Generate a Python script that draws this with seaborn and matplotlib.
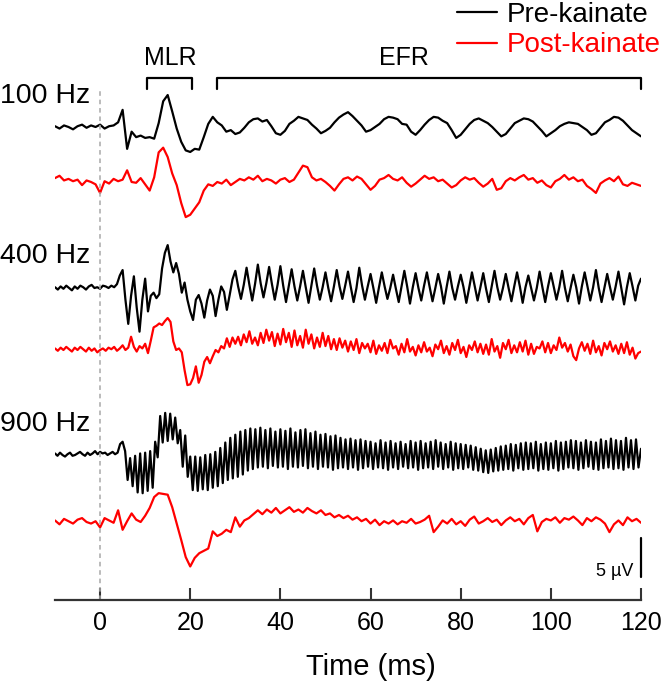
import numpy as np
import matplotlib
matplotlib.use("Agg")
import matplotlib.pyplot as plt
import seaborn as sns
from matplotlib.lines import Line2D

# amostragem (ms) de cada registro
t_start = -10.0
step_100 = 1.0
step_400 = 0.625
step_900_pre = 5 / 9
step_900_post = 1.0

# 100 Hz (uV)
pre_100 = [0.1, -0.2, 0.2, 0.0, -0.3, 0.1, 0.3, -0.1, 0.2, 0.0,
           0.3, -0.2, 0.1, 0.2, 0.6, 2.2, -2.8, -0.6, -1.3, -1.1,
           -1.4, -1.3, -1.5, 0.5, 3.3, 4.1, 2.0, -0.2, -1.9, -3.0,
           -3.2, -2.8, -2.9, -1.3, 0.4, 1.3, 0.6, 0.2, -0.6, -0.4,
           -0.9, -0.7, -0.1, 0.6, 1.0, 1.1, 0.7, 0.9, 0.1, -0.8,
           -1.0, -0.5, 0.4, 0.8, 1.3, 1.1, 0.9, 0.3, -0.2, -0.8,
           -0.5, -0.1, 0.6, 1.2, 1.6, 1.9, 1.4, 0.8, 0.2, -0.6,
           -0.4, 0.0, 0.4, 1.0, 1.3, 1.2, 1.0, 0.4, 0.3, -0.6,
           -1.0, -0.4, 0.3, 0.9, 1.3, 1.2, 0.8, 0.5, -0.4, -1.4,
           -1.0, -0.3, 0.4, 0.9, 1.1, 0.8, 0.5, 0.0, -0.6, -1.2,
           -0.9, -0.2, 0.5, 0.8, 1.1, 1.0, 0.7, 0.1, -0.5, -1.2,
           -0.8, -0.4, 0.1, 0.4, 0.6, 0.5, 0.4, 0.0, -0.4, -1.0,
           -0.8, -0.1, 0.6, 0.9, 1.3, 1.2, 0.8, 0.2, -0.4, -0.8,
           -1.2]
post_100 = [0.5, 0.8, 0.2, 0.4, 0.1, 0.3, -0.4, 0.2, 0.0, -0.3,
            -1.4, 0.1, -0.2, 0.4, 0.1, 0.3, 1.5, 0.0, -0.1, 0.5,
            -0.3, -1.1, 0.6, 3.8, 4.4, 3.2, 1.1, -0.4, -2.7, -4.5,
            -4.2, -3.4, -2.6, -1.1, -0.3, -0.5, 0.0, -0.2, 0.3, -0.4,
            0.0, 0.4, 0.2, 0.6, 0.3, 0.8, 0.1, 0.4, 0.2, -0.2,
            0.3, 0.5, 0.0, 0.3, 1.2, 2.1, 1.9, 0.6, 0.2, 0.4,
            0.0, -0.5, -1.1, -0.3, 0.4, 0.6, 0.2, 0.7, 0.4, -0.3,
            -1.0, -0.5, 0.3, 0.5, 0.9, 0.4, 0.2, 0.6, -0.1, -0.6,
            -0.2, 0.3, 0.8, 0.4, 0.6, 0.1, 0.3, -0.2, -0.7, -0.4,
            0.2, 0.6, 0.3, 0.5, -0.1, -0.6, -0.2, 0.4, -1.0, -0.8,
            0.1, 0.5, 0.2, 0.6, 0.9, 0.3, 0.5, -0.1, 0.2, -0.4,
            -0.7, 0.1, 0.4, 0.9, 0.3, 0.6, 0.1, 0.3, -0.5, -0.9,
            -1.4, -0.2, 0.2, 0.5, 0.1, 0.7, -0.3, -0.5, -0.1, -0.3,
            -0.5]

# 400 Hz (uV)
pre_400 = [0.1, -0.2, 0.2, -0.1, 0.3, 0.0, -0.3, 0.2,
           -0.1, 0.3, 0.1, -0.2, 0.2, 0.4, 0.0, 0.1,
           -0.1, 0.3, 0.2, 0.0, 0.3, 0.1, 0.5, 1.6,
           2.3, -1.5, -4.6, -1.0, 1.5, -2.5, -5.6, -1.5,
           1.2, -3.0, -1.0, -0.6, -1.3, -0.8, 2.5, 4.5,
           5.5, 3.4, 2.0, 3.2, 1.8, -0.6, 0.7, -1.5,
           -3.0, -4.1, -1.5, -0.9, -2.0, -3.8, -1.6, -0.2,
           -1.0, -3.6, -1.5, 0.2, -0.5, -2.8, -0.9, 1.1,
           2.2, 0.2, -1.4, 0.4, 2.6, 0.4, -1.6, 0.5,
           3.0, 0.6, -1.2, 0.6, 2.7, 0.5, -1.5, 0.4,
           2.8, 0.3, -1.8, 0.3, 2.4, 0.2, -1.6, 0.2,
           2.2, 0.1, -1.9, 0.3, 2.5, 0.3, -1.5, 0.1,
           2.0, 0.0, -1.7, 0.2, 2.3, 0.2, -1.4, 0.3,
           2.1, 0.1, -1.8, 0.0, 2.6, 0.3, -1.5, 0.2,
           1.8, 0.0, -1.9, 0.1, 2.0, 0.2, -1.4, 0.0,
           1.7, -0.1, -1.8, 0.2, 2.2, 0.2, -2.0, 0.1,
           1.9, 0.0, -1.6, 0.3, 2.0, 0.1, -1.7, 0.0,
           1.8, 0.2, -2.0, 0.1, 2.1, 0.0, -1.5, 0.2,
           1.7, 0.1, -1.9, 0.0, 2.0, 0.2, -1.6, 0.1,
           1.9, -0.1, -1.8, 0.2, 2.2, 0.1, -1.5, 0.0,
           1.8, 0.0, -1.7, 0.2, 2.0, 0.2, -1.9, 0.1,
           1.6, 0.0, -1.6, 0.0, 2.1, 0.1, -1.8, 0.2,
           1.9, 0.2, -1.5, 0.1, 2.2, 0.0, -1.7, 0.0,
           1.7, 0.1, -2.0, 0.2, 2.0, 0.2, -1.6, 0.1,
           2.3, 0.0, -1.8, 0.0, 1.8, 0.1, -1.5, 0.2,
           2.1, 0.0, -2.1, 0.1, 1.9, 0.2, -1.6, 0.3,
           1.2]
post_400 = [0.2, -0.1, 0.3, 0.0, 0.4, 0.1, -0.2, 0.3,
            0.0, 0.4, 0.1, -0.2, 0.3, -0.1, 0.2, -0.3,
            0.0, 0.2, -0.1, 0.3, 0.1, 0.4, -0.1, 0.2,
            0.6, 0.0, 0.3, 1.7, 0.4, -0.2, 0.5, 0.2,
            0.8, -0.4, 1.2, 2.9, 3.1, 3.4, 3.2, 3.7,
            4.1, 3.6, 1.1, 0.0, 0.2, -0.3, -2.6, -4.5,
            -4.4, -3.6, -2.1, -4.2, -3.2, -1.5, -0.9, -1.7,
            -0.8, 0.0, -0.3, 0.5, 0.2, 1.5, 0.4, 1.6,
            0.8, 1.7, 0.6, 2.0, 1.0, 2.4, 0.8, 1.6,
            0.6, 2.2, 0.9, 2.6, 1.2, 2.3, 0.5, 2.1,
            0.7, 2.7, 1.0, 2.2, 0.4, 2.5, 0.6, 1.8,
            0.3, 2.6, 0.8, 2.0, 0.2, 1.6, 0.4, 2.2,
            0.5, 1.8, 0.1, 1.4, 0.0, 1.5, 0.3, 1.2,
            -0.2, 1.1, 0.0, 1.4, -0.4, 0.9, 0.2, 0.8,
            -0.3, 1.2, -0.5, 0.6, -0.1, 0.9, -0.4, 1.3,
            0.2, 0.5, -0.6, 0.8, -0.3, 1.4, -0.2, 0.4,
            -0.7, 0.6, -0.3, 1.0, -0.2, 0.3, -0.8, 0.7,
            0.1, 1.2, -0.4, 0.5, -0.6, 0.9, 0.0, 1.3,
            -0.4, 0.4, -0.9, 0.6, 0.0, 1.1, -0.3, 0.8,
            -0.5, 0.7, -0.6, 1.4, -0.2, 0.5, -1.0, 0.9,
            0.1, 1.3, -0.4, 0.6, -0.3, 1.0, -0.2, 1.2,
            -0.6, 0.8, -0.5, 0.4, 0.2, 1.1, -0.3, 0.9,
            -0.4, 0.6, 0.0, 1.6, 0.3, 0.9, -0.2, 0.7,
            -0.8, -1.3, 0.2, 1.0, -0.1, 0.8, -0.5, 1.2,
            -0.3, 0.5, -0.7, 0.9, 0.1, 1.1, -0.2, 0.6,
            -0.5, 0.8, -0.4, 1.0, -0.6, 0.3, -1.1, -0.4,
            -0.2]

# 900 Hz (uV)
pre_900 = [0.2, -0.1, 0.3, 0.0, -0.2, 0.1, 0.3, -0.1, 0.0,
           0.2, 0.4, 0.1, -0.1, 0.3, 0.0, 0.2, 0.5, 0.1,
           0.4, 0.2, 0.3, 0.0, 0.2, 0.4, 0.1, 0.3, 1.4,
           1.7, 0.5, -3.2, -0.4, -4.0, -0.1, -4.8, 0.2, -4.9,
           0.3, -4.6, 0.5, -4.2, 1.7, -0.3, 5.0, 1.6, 5.4,
           1.8, 5.3, 2.0, 4.8, 1.5, 3.2, -1.5, 2.5, -2.8,
           -0.2, -4.5, -0.2, -4.6, -0.3, -4.4, 0.0, -4.5, 0.1,
           -4.2, 0.4, -4.0, 0.9, -3.6, 1.6, -3.2, 2.2, -3.0,
           2.6, -2.8, 3.0, -2.5, 3.2, -2.0, 3.4, -1.8, 3.3,
           -1.6, 3.5, -1.5, 3.2, -1.7, 3.4, -1.4, 3.0, -1.6,
           3.3, -1.5, 3.1, -1.8, 3.4, -1.5, 2.9, -1.6, 3.2,
           -1.4, 3.3, -1.7, 2.8, -1.5, 3.0, -1.8, 2.6, -1.5,
           2.7, -1.6, 2.4, -1.9, 2.5, -1.7, 2.2, -1.6, 2.0,
           -1.8, 2.1, -1.6, 1.9, -1.9, 2.0, -1.7, 1.8, -1.5,
           1.7, -1.8, 1.5, -1.6, 1.9, -1.7, 1.6, -1.9, 1.8,
           -1.6, 1.5, -1.8, 1.7, -1.5, 1.4, -1.7, 1.8, -1.6,
           1.6, -1.9, 1.8, -1.7, 1.5, -1.6, 1.7, -1.8, 1.9,
           -1.5, 1.6, -1.8, 1.4, -1.6, 1.7, -1.9, 1.5, -1.7,
           1.4, -1.8, 1.3, -1.6, 1.2, -1.9, 1.0, -2.0, 0.8,
           -2.2, 0.6, -2.3, 0.7, -2.1, 0.9, -2.0, 1.1, -1.9,
           1.2, -1.8, 1.4, -2.0, 1.3, -1.7, 1.5, -1.9, 1.6,
           -1.8, 1.5, -1.7, 1.7, -2.0, 1.4, -1.8, 1.6, -1.9,
           1.5, -1.7, 1.8, -2.0, 1.6, -1.8, 1.7, -1.6, 1.9,
           -1.7, 1.8, -1.9, 1.6, -1.7, 1.9, -1.5, 1.7, -1.8,
           1.6, -1.9, 2.0, -1.7, 1.8, -1.6, 2.1, -1.8, 1.9,
           -1.7, 1.8, -1.9, 2.2, -1.6, 1.9, -1.8, 2.0, -1.6,
           0.8]
post_900 = [0.2, -0.3, 0.4, 0.1, -0.2, 0.3, 0.5, 0.0, -0.2, 0.1,
            -0.7, 0.5, 0.2, -0.1, 1.5, -1.0, 0.1, 1.1, 0.3, 0.0,
            0.8, 1.8, 3.2, 3.7, 3.6, 3.5, 1.9, -0.2, -2.3, -4.5,
            -5.7, -4.6, -4.0, -3.7, -3.4, -1.2, -1.8, -1.5, -1.0, -1.3,
            0.6, -0.6, 0.2, 0.5, 1.0, 1.5, 1.0, 1.6, 1.2, 1.8,
            1.1, 1.5, 1.9, 1.3, 1.6, 1.2, 1.8, 1.4, 1.1, 1.5,
            0.9, 1.1, 0.6, 0.9, 0.5, 0.8, 0.3, 0.6, 0.1, 0.4,
            -0.2, 0.3, -0.4, 0.1, -0.2, 0.2, -0.3, 0.1, -0.1, 0.4,
            -0.2, 0.0, 0.3, 0.8, -1.3, -0.6, 0.2, -0.2, 0.4, -0.3,
            0.1, -0.5, 0.3, 0.7, -0.2, 0.1, 0.5, 0.0, 0.3, -0.4,
            0.2, 0.6, 0.1, 0.4, -0.3, 0.5, 0.9, -1.2, 0.0, 0.4,
            0.2, 0.6, -0.1, 0.5, 0.3, 0.7, 0.2, -0.4, 0.5, 0.1,
            0.6, 0.3, -0.2, -1.3, -0.3, 0.2, -0.4, 0.6, 0.1, 0.4,
            -0.1]

freq_labels = ["100 Hz", "400 Hz", "900 Hz"]
group_labels = ["Pre-kainate", "Post-kainate"]
mlr_window = [10.5, 20.5]
efr_window = [26, 120]
scale_uv = 5
xticks = [0, 20, 40, 60, 80, 100, 120]

# layout: 7.8 px por uV, linha de base de cada registro (px a partir do topo)
px_per_uv = 7.8
baselines = [127, 182, 288, 350, 455, 522]


def y_at(px):
    return -px / px_per_uv


sns.set_style("white")
plt.rcParams['font.family'] = ['Liberation Sans', 'DejaVu Sans']
plt.rcParams['text.color'] = 'black'
plt.rcParams['xtick.color'] = 'black'
plt.rcParams['axes.labelcolor'] = 'black'

fig = plt.figure(figsize=(6.61, 6.92), dpi=100)
ax = fig.add_axes([55 / 661, 92 / 692, 586 / 661, 600 / 692])

traces = [(pre_100, step_100, 'black'), (post_100, step_100, 'red'),
          (pre_400, step_400, 'black'), (post_400, step_400, 'red'),
          (pre_900, step_900_pre, 'black'), (post_900, step_900_post, 'red')]

for k, (vals, step, color) in enumerate(traces):
    vals = np.asarray(vals)
    t = t_start + step * np.arange(len(vals))
    sns.lineplot(x=t, y=vals + y_at(baselines[k]), ax=ax, color=color,
                 linewidth=1.6, estimator=None, sort=False)

# linha do estimulo
ax.vlines(0, y_at(600), y_at(88), colors='#a8a8a8', linestyles=(0, (3, 2.5)), linewidth=1.1)

# colchetes MLR / EFR
br_y, br_h = y_at(78), 11 / px_per_uv
for (x0, x1), name, xc in [(mlr_window, "MLR", 15.5), (efr_window, "EFR", 67.5)]:
    ax.plot([x0, x0, x1, x1], [br_y - br_h, br_y, br_y, br_y - br_h], color='black',
            linewidth=1.6, clip_on=False)
    ax.text(xc, y_at(58), name, ha='center', va='center', fontsize=18)

# rotulos de frequencia
for lab, px in zip(freq_labels, [96, 256, 424]):
    ax.text(-22.2, y_at(px), lab, ha='left', va='center', fontsize=20.5, clip_on=False)

# barra de escala
bar_bottom = y_at(577)
ax.plot([120, 120], [bar_bottom, bar_bottom + scale_uv], color='black', linewidth=1.6, clip_on=False)
ax.text(118.3, y_at(571), f"{scale_uv} µV", ha='right', va='center', fontsize=13)

# legenda
handles = [Line2D([], [], color='black', linewidth=1.6),
           Line2D([], [], color='red', linewidth=1.6)]
leg = fig.legend(handles, group_labels, loc='upper right', bbox_to_anchor=(1.0, 0.997),
                 frameon=False, fontsize=20, handlelength=1.45, handletextpad=0.35,
                 labelspacing=0.15, borderpad=0, borderaxespad=0)
leg.get_texts()[1].set_color('red')

ax.set_xlim(-10, 120)
ax.set_ylim(y_at(600), 0)
ax.set_xticks(xticks)
ax.set_yticks([])
for s in ['left', 'top', 'right']:
    ax.spines[s].set_visible(False)
ax.spines['bottom'].set_color('#333333')
ax.spines['bottom'].set_linewidth(1.6)
ax.tick_params(axis='x', direction='in', length=8.5, width=1.5, color='#333333',
               labelcolor='black', pad=8, labelsize=18, bottom=True)
ax.set_xlabel("Time (ms)", fontsize=21)
ax.xaxis.set_label_coords((60 + 10) / 130, -0.088)

fig.savefig("out.png", dpi=100)
